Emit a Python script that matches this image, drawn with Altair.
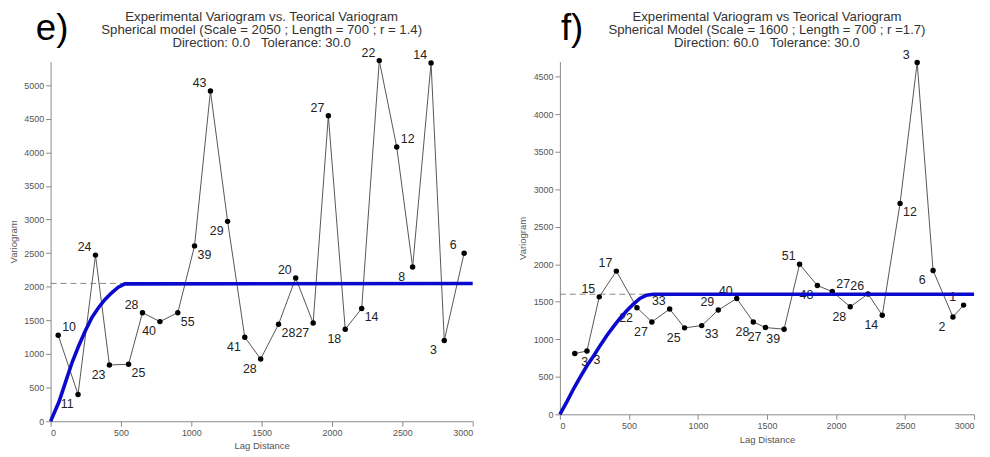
import altair as alt
import pandas as pd

# ---------------- data: panel e) ----------------
e_lag = [54, 195, 319, 418, 554, 653, 777, 904, 1023, 1136, 1258, 1380, 1493,
         1620, 1742, 1866, 1974, 2094, 2211, 2336, 2460, 2573, 2704, 2798, 2939]
e_gamma = [1280, 399, 2471, 837, 847, 1615, 1482, 1615, 2608, 4911, 2973, 1250, 926,
           1442, 2131, 1462, 4543, 1368, 1678, 5364, 4080, 2294, 5330, 1201, 2500]
e_pairs = [10, 11, 24, 23, 25, 28, 40, 55, 39, 43, 29, 41, 28,
           28, 20, 27, 27, 18, 14, 22, 12, 8, 14, 3, 6]
e_place = ["NE", "SW", "NW", "SW", "SE", "NW", "SW", "SE", "SE", "NW", "SW", "SW", "SW",
           "SE", "NW", "SW", "NW", "SW", "SE", "NW", "NE", "SW", "NW", "SW", "NW"]
e_model_lag = [0, 59, 106, 153, 200, 246, 293, 340, 387, 434, 481, 528, 3000]
e_model_gamma = [0, 286, 582, 877, 1122, 1343, 1541, 1689, 1811, 1910, 1993, 2043, 2050]
e_sill = 2050
e_sill_end = 528
e_title = ["Experimental Variogram vs. Teorical Variogram",
           "Spherical model (Scale = 2050 ; Length = 700 ; r = 1.4)",
           "Direction: 0.0\u00a0\u00a0\u00a0Tolerance: 30.0"]
e_yticks = [0, 500, 1000, 1500, 2000, 2500, 3000, 3500, 4000, 4500, 5000]
e_ymax = 5350

# ---------------- data: panel f) ----------------
f_lag = [108, 196, 285, 409, 558, 666, 795, 903, 1027, 1147, 1281, 1401, 1489,
         1624, 1736, 1865, 1973, 2103, 2232, 2335, 2464, 2588, 2703, 2847, 2924]
f_gamma = [809, 844, 1565, 1908, 1420, 1231, 1402, 1152, 1182, 1389, 1543, 1231, 1156,
           1134, 2000, 1715, 1636, 1433, 1604, 1319, 2810, 4687, 1917, 1297, 1455]
f_pairs = [3, 3, 15, 17, 22, 27, 33, 25, 33, 29, 40, 28, 27,
           39, 51, 48, 27, 28, 26, 14, 12, 3, 6, 2, 1]
f_place = ["SE", "SE", "NW", "NW", "SW", "SW", "NW", "SW", "SE", "NW", "NW", "SW", "SW",
           "SW", "NW", "SW", "NE", "SW", "NW", "SW", "SE", "NW", "SW", "SW", "NW"]
f_model_lag = [0, 52, 101, 149, 196, 244, 292, 340, 388, 436, 484, 532, 580, 627, 675, 3000]
f_model_gamma = [0, 172, 347, 501, 646, 778, 918, 1050, 1169, 1280, 1380, 1468, 1543,
                 1587, 1600, 1600]
f_sill = 1600
f_sill_end = 675
f_title = ["Experimental Variogram vs Teorical Variogram",
           "Spherical Model (Scale = 1600 ; Length = 700 ; r =1.7)",
           "Direction: 60.0\u00a0\u00a0\u00a0Tolerance: 30.0"]
f_yticks = [0, 500, 1000, 1500, 2000, 2500, 3000, 3500, 4000, 4500]
f_ymax = 4700

x_ticks = [0, 500, 1000, 1500, 2000, 2500, 3000]

FONT = "Liberation Sans"
OFFSETS = {"NW": (-11, -8), "SW": (-11, 10), "SE": (10, 9), "NE": (11, -8)}


def panel(lag, gamma, pairs, place, mlag, mgamma, sill, sill_end, title, yticks,
          ymax, letter, letter_x, width, height):
    pts = pd.DataFrame({"lag": lag, "gamma": gamma, "pairs": pairs, "place": place})
    model = pd.DataFrame({"lag": mlag, "gamma": mgamma})
    xs = alt.Scale(domain=[0, 3000], nice=False)
    ys = alt.Scale(domain=[0, ymax], nice=False)
    x = alt.X("lag:Q", scale=xs,
              axis=alt.Axis(values=x_ticks, format="d", title="Lag Distance"))
    y = alt.Y("gamma:Q", scale=ys,
              axis=alt.Axis(values=yticks, format="d", title="Variogram"))

    base = alt.Chart(pts)
    line = base.mark_line(color="#555555", strokeWidth=1).encode(x=x, y=y)
    dots = base.mark_circle(color="#000000", opacity=1, size=30).encode(x=x, y=y)
    labels = []
    for code, (dx, dy) in OFFSETS.items():
        labels.append(
            base.transform_filter(alt.datum.place == code)
            .mark_text(font=FONT, fontSize=12.5, color="#222222", dx=dx, dy=dy,
                       align="center", baseline="middle")
            .encode(x=x, y=y, text="pairs:Q")
        )
    sill_df = pd.DataFrame({"lag": [0], "lag2": [sill_end], "gamma": [sill]})
    dash = alt.Chart(sill_df).mark_rule(color="#888888", strokeWidth=1,
                                         strokeDash=[6, 4]).encode(
        x=x, x2="lag2:Q", y=y)
    curve = alt.Chart(model).mark_line(color="#0A0ACF", strokeWidth=3.6).encode(x=x, y=y)

    ttl = alt.Chart(pd.DataFrame({"t": ["\n".join(title)]})).mark_text(
        font=FONT, fontSize=13.3, lineHeight=13.4, color="#333333", align="center",
        baseline="alphabetic", lineBreak="\n").encode(
        x=alt.value(width / 2), y=alt.value(-41), text="t:N")
    let = alt.Chart(pd.DataFrame({"t": [letter]})).mark_text(
        font=FONT, fontSize=37, color="#000000", align="left",
        baseline="alphabetic").encode(
        x=alt.value(letter_x), y=alt.value(-22), text="t:N")

    return alt.layer(dash, line, dots, *labels, curve, ttl, let).properties(
        width=width, height=height)


left = panel(e_lag, e_gamma, e_pairs, e_place, e_model_lag, e_model_gamma, e_sill,
             e_sill_end, e_title, e_yticks, e_ymax, "e)", -15, 426, 363)
right = panel(f_lag, f_gamma, f_pairs, f_place, f_model_lag, f_model_gamma, f_sill,
              f_sill_end, f_title, f_yticks, f_ymax, "f)", 1, 418, 356)

chart = alt.hconcat(left, right, spacing=37).properties(
    padding={"left": 0, "top": 0, "right": 0, "bottom": 0}
).configure_view(stroke=None).configure_axis(
    grid=False,
    domainColor="#8a8a8a",
    tickColor="#8a8a8a",
    tickSize=5,
    labelFont=FONT,
    labelFontSize=9,
    labelColor="#555555",
    labelPadding=2,
    titleFont=FONT,
    titleFontSize=9.6,
    titleFontWeight="normal",
    titleColor="#555555",
).configure_axisY(titlePadding=5.5).configure_axisX(titlePadding=4)

chart.save("out.html", embed_options={"renderer": "svg", "actions": False})
